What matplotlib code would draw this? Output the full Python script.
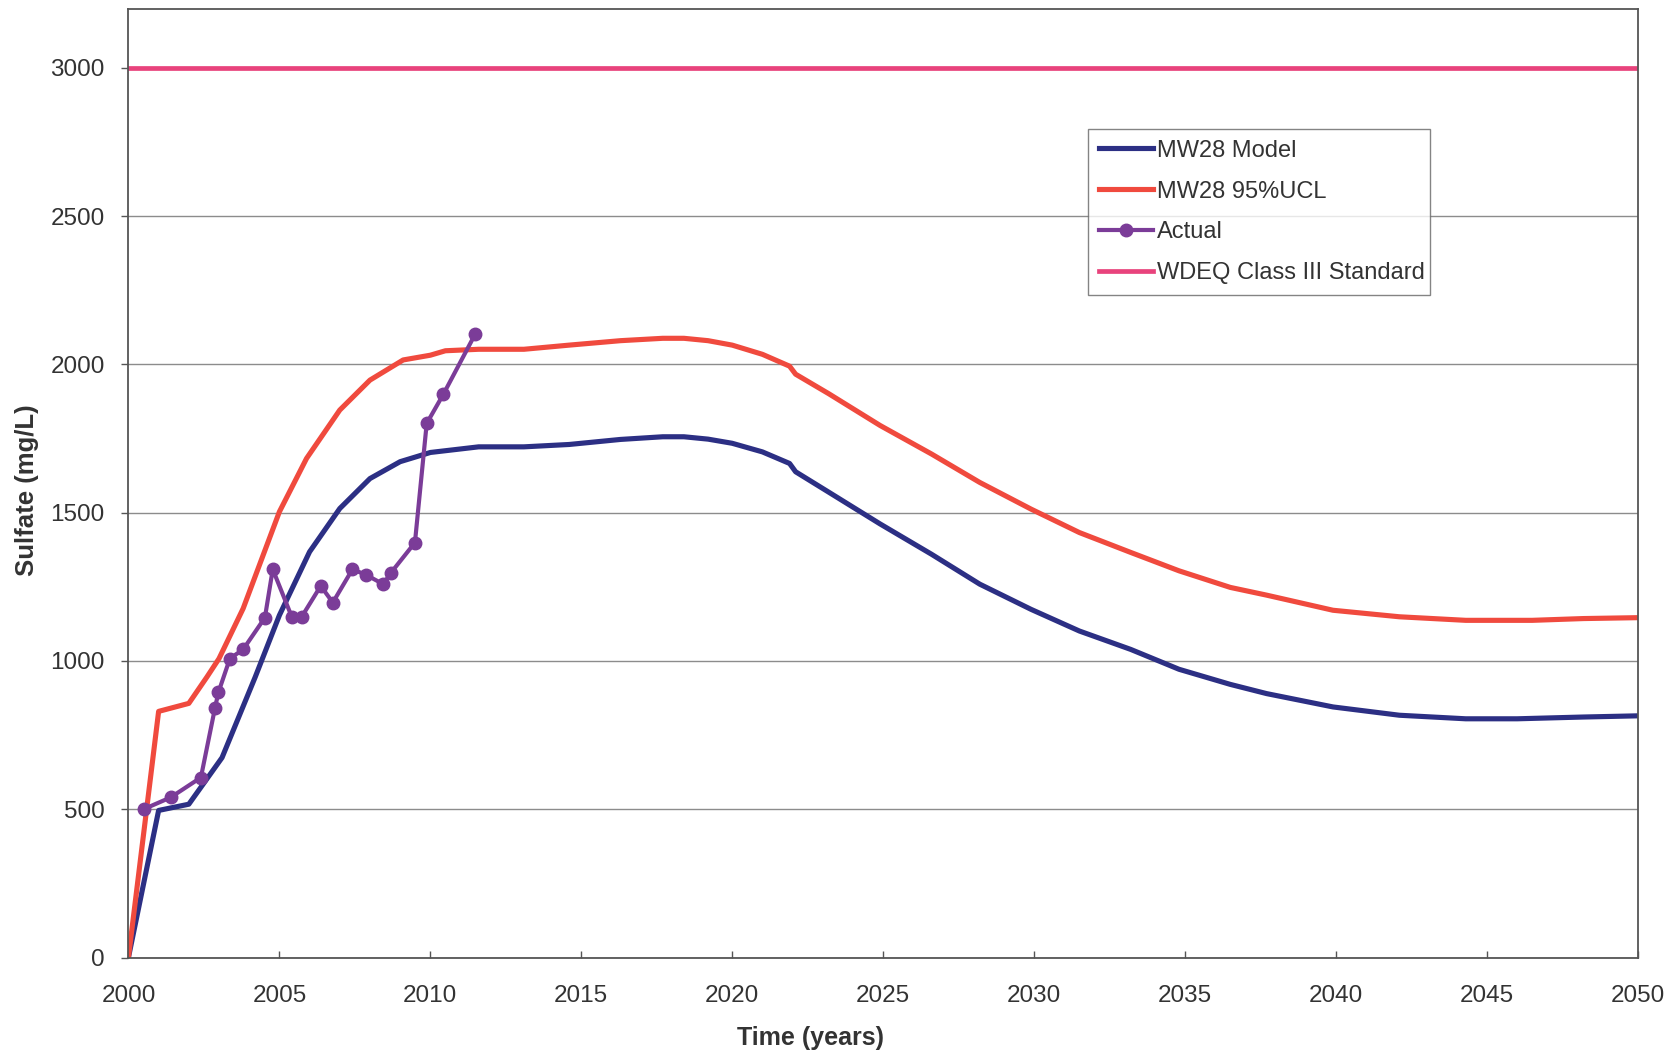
import matplotlib
matplotlib.use('Agg')
import matplotlib.pyplot as plt

plt.rcParams['font.family'] = ['Liberation Sans', 'DejaVu Sans']

# MW28 model
model_years = [2000, 2001, 2002, 2003.1, 2004.2, 2005, 2006, 2007, 2008, 2009,
               2010, 2011.6, 2013.1, 2014.6, 2016.3, 2017.7, 2018.4, 2019.2,
               2020, 2021, 2021.9, 2022.1, 2023.2, 2024.9, 2026.6, 2028.2,
               2029.9, 2031.5, 2033.2, 2034.8, 2036.5, 2037.7, 2039.9, 2042.1,
               2044.3, 2046, 2048.2, 2050]
model_vals = [0, 496, 517, 674, 946, 1154, 1368, 1514, 1615, 1672,
              1703, 1722, 1722, 1730, 1747, 1756, 1756, 1748,
              1734, 1705, 1666, 1638, 1569, 1462, 1360, 1259,
              1174, 1101, 1039, 972, 921, 890, 845, 817,
              805, 805, 811, 815]

# MW28 95% UCL
ucl_years = [2000, 2001, 2002, 2002.6, 2003, 2003.8, 2005, 2005.9, 2007, 2008,
             2009.1, 2010, 2010.5, 2011.6, 2013.1, 2014.6, 2016.3, 2017.7,
             2018.4, 2019.2, 2020, 2021, 2021.9, 2022.1, 2023.2, 2024.9,
             2026.6, 2028.2, 2029.9, 2031.5, 2033.2, 2034.8, 2036.5, 2037.7,
             2039.9, 2042.1, 2044.3, 2046.5, 2048.2, 2050]
ucl_vals = [0, 830, 857, 946, 1008, 1177, 1503, 1683, 1846, 1947,
            2015, 2031, 2046, 2051, 2051, 2065, 2080, 2088,
            2088, 2080, 2065, 2034, 1994, 1967, 1901, 1794,
            1698, 1602, 1512, 1433, 1366, 1304, 1248, 1222,
            1171, 1149, 1137, 1137, 1143, 1146]

# measured values
actual_years = [2000.5, 2001.4, 2002.4, 2002.87, 2002.98, 2003.36, 2003.8,
                2004.52, 2004.78, 2005.41, 2005.74, 2006.37, 2006.77, 2007.42,
                2007.86, 2008.44, 2008.7, 2009.49, 2009.88, 2010.43, 2011.48]
actual_vals = [500, 540, 607, 843, 894, 1008, 1039,
               1146, 1309, 1149, 1149, 1253, 1197, 1309,
               1291, 1259, 1298, 1399, 1801, 1899, 2101]

# WDEQ Class III standard
wdeq_years = [2000, 2050]
wdeq_vals = [3000, 3000]

x_ticks = list(range(2000, 2051, 5))
y_ticks = list(range(0, 3001, 500))

text_color = '#333333'

fig = plt.figure(figsize=(16.79, 10.52), dpi=100)
ax = fig.add_axes([0.0765, 0.0898, 0.899, 0.9021])

ax.plot(model_years, model_vals, color='#2C2F84', lw=3.7, label='MW28 Model',
        solid_joinstyle='round')
ax.plot(ucl_years, ucl_vals, color='#F04A3E', lw=3.7, label='MW28 95%UCL',
        solid_joinstyle='round')
ax.plot(actual_years, actual_vals, color='#7B3C98', lw=3, marker='o',
        markersize=9, label='Actual')
ax.plot(wdeq_years, wdeq_vals, color='#E8437C', lw=3.4,
        label='WDEQ Class III Standard')

ax.set_xlim(2000, 2050)
ax.set_ylim(0, 3200)
ax.set_xticks(x_ticks)
ax.set_yticks(y_ticks)
ax.grid(axis='y', color='#8c8c8c', lw=1)
ax.set_axisbelow(True)

for s in ax.spines.values():
    s.set_color('#555555')
    s.set_linewidth(1.3)

ax.tick_params(axis='x', direction='in', length=5, width=1, color='#555555',
               pad=20, labelsize=17.5, labelcolor=text_color)
ax.tick_params(axis='y', direction='out', length=5, width=1, color='#555555',
               pad=12, labelsize=17.5, labelcolor=text_color)

ax.set_xlabel('Time (years)', fontsize=18, fontweight='bold', color=text_color,
              va='center')
ax.xaxis.set_label_coords(0.4516, -0.0846)
ax.set_ylabel('Sulfate (mg/L)', fontsize=18.5, fontweight='bold', color=text_color,
              va='center')
ax.yaxis.set_label_coords(-0.0673, 0.492)

leg_top = 1 - 129 / 1052
leg = ax.legend(loc='upper left',
                bbox_to_anchor=(1088 / 1679, leg_top - 0.01, (1430 - 1088) / 1679, 0.01),
                bbox_transform=fig.transFigure, mode='expand', borderaxespad=0,
                fontsize=17, frameon=True, fancybox=False, handlelength=2.3,
                handletextpad=0.17, labelspacing=0.8, borderpad=0.45,
                numpoints=1, labelcolor=text_color)
leg.get_frame().set_edgecolor('#666666')
leg.get_frame().set_linewidth(1)

fig.savefig('out.png', dpi=100, facecolor='white')
